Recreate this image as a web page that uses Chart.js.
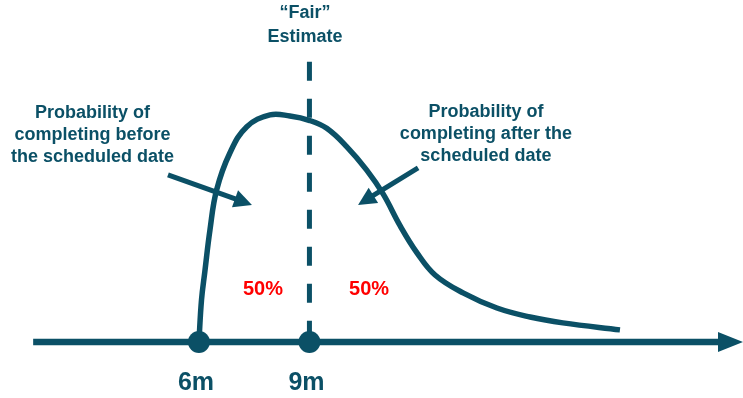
<!DOCTYPE html>
<html>
<head>
<meta charset="utf-8">
<script src="https://cdn.jsdelivr.net/npm/chart.js@4/dist/chart.umd.min.js"></script>
<style>
  html, body { margin: 0; padding: 0; background: #ffffff; }
  #wrap { width: 743px; height: 398px; position: relative; }
</style>
</head>
<body>
<div id="wrap"><canvas id="c"></canvas></div>
<script>
// Completion-time distribution (months vs. relative likelihood)
const months  = [6, 6.07, 6.16, 6.30, 6.48, 6.84, 7.30, 7.93, 8.47, 9.01, 9.47, 10.01, 10.55, 11.0, 11.46, 11.92, 12.41, 13.17, 14.09, 14.99, 15.88, 17.43];
const density = [0, 15.0, 25.0, 40.0, 54.2, 67.4, 76.8, 81.0, 80.6, 79.0, 76.2, 69.7, 61.4, 52.8, 41.5, 31.8, 23.9, 17.5, 12.1, 8.9, 6.8, 4.3];

// Marked points on the time axis
const tickValues = [6, 9];
const tickLabels = ['6m', '9m'];

// "Fair" estimate marker
const fairMonth = 9;
const fairTop = 100;

// Share of outcomes either side of the fair estimate
const shareLabels = ['50%', '50%'];

const ink = '#0b5066';
const fontFamily = '"Liberation Sans", Arial, Helvetica, sans-serif';

const curveData = months.map((m, i) => ({ x: m, y: density[i] }));
const dotData = tickValues.map(v => ({ x: v, y: 0 }));

function arrow(ctx, x1, y1, x2, y2, width, headLen, headHalf) {
  const a = Math.atan2(y2 - y1, x2 - x1);
  const bx = x2 - Math.cos(a) * headLen, by = y2 - Math.sin(a) * headLen;
  ctx.lineWidth = width;
  ctx.lineCap = 'butt';
  ctx.beginPath();
  ctx.moveTo(x1, y1);
  ctx.lineTo(bx + Math.cos(a) * 1, by + Math.sin(a) * 1);
  ctx.stroke();
  ctx.beginPath();
  ctx.moveTo(x2, y2);
  ctx.lineTo(bx + Math.sin(a) * headHalf, by - Math.cos(a) * headHalf);
  ctx.lineTo(bx - Math.sin(a) * headHalf, by + Math.cos(a) * headHalf);
  ctx.closePath();
  ctx.fill();
}

const annotations = {
  id: 'annotations',
  beforeDatasetsDraw(chart) {
    const { ctx, scales: { x, y } } = chart;
    ctx.save();
    ctx.strokeStyle = ink;
    ctx.fillStyle = ink;
    // time axis with arrow
    const y0 = y.getPixelForValue(0);
    arrow(ctx, x.getPixelForValue(1.5), y0, x.getPixelForValue(x.max), y0, 6.5, 25, 10);
    ctx.restore();
  },
  afterDatasetsDraw(chart) {
    const { ctx, scales: { x, y } } = chart;
    const px = v => x.getPixelForValue(v);
    const py = v => y.getPixelForValue(v);
    ctx.save();
    ctx.strokeStyle = ink;
    ctx.fillStyle = ink;
    // pointers into the two regions
    arrow(ctx, px(5.16), py(59.6), px(7.44), py(48.9), 5, 18, 9);
    arrow(ctx, px(11.95), py(62.1), px(10.32), py(48.9), 5, 18, 9);

    ctx.textAlign = 'center';
    ctx.textBaseline = 'alphabetic';
    ctx.font = 'bold 18px ' + fontFamily;
    ctx.fillText('\u201CFair\u201D', px(8.88), py(115.5));
    ctx.fillText('Estimate', px(8.88), py(107.1));

    const left = ['Probability of', 'completing before', 'the scheduled date'];
    const right = ['Probability of', 'completing after the', 'scheduled date'];
    const rows = [79.9, 72.1, 64.2];
    left.forEach((t, i) => ctx.fillText(t, px(3.11), py(rows[i])));
    const rowsR = [80.3, 72.5, 64.6];
    right.forEach((t, i) => ctx.fillText(t, px(13.79), py(rowsR[i])));

    ctx.fillStyle = '#ff0000';
    ctx.font = 'bold 20px ' + fontFamily;
    ctx.fillText(shareLabels[0], px(7.74), py(16.8));
    ctx.fillText(shareLabels[1], px(10.62), py(16.8));

    ctx.fillStyle = ink;
    ctx.font = 'bold 25px ' + fontFamily;
    tickValues.forEach((v, i) => ctx.fillText(tickLabels[i], px(v - 0.08), py(-17.1)));
    ctx.restore();
  }
};

// vertical scale: 0 sits on the time axis
new Chart(document.getElementById('c'), {
  type: 'scatter',
  data: {
    datasets: [
      {
        data: dotData,
        pointRadius: 11,
        pointHoverRadius: 11,
        pointBackgroundColor: ink,
        pointBorderWidth: 0,
        showLine: false
      },
      {
        data: [{ x: fairMonth, y: fairTop }, { x: fairMonth, y: 0 }],
        showLine: true,
        borderColor: ink,
        borderWidth: 5,
        borderDash: [19, 18],
        borderCapStyle: 'butt',
        pointRadius: 0
      },
      {
        data: curveData,
        showLine: true,
        borderColor: ink,
        borderWidth: 5.5,
        tension: 0.4,
        borderCapStyle: 'butt',
        borderJoinStyle: 'round',
        pointRadius: 0
      }
    ]
  },
  options: {
    responsive: true,
    maintainAspectRatio: false,
    animation: false,
    layout: { padding: 0, autoPadding: false },
    plugins: { legend: { display: false }, tooltip: { enabled: false } },
    scales: {
      x: { type: 'linear', min: 0.6, max: 20.77, display: false },
      y: { type: 'linear', min: -20, max: 122, display: false }
    }
  },
  plugins: [annotations]
});
</script>
</body>
</html>
